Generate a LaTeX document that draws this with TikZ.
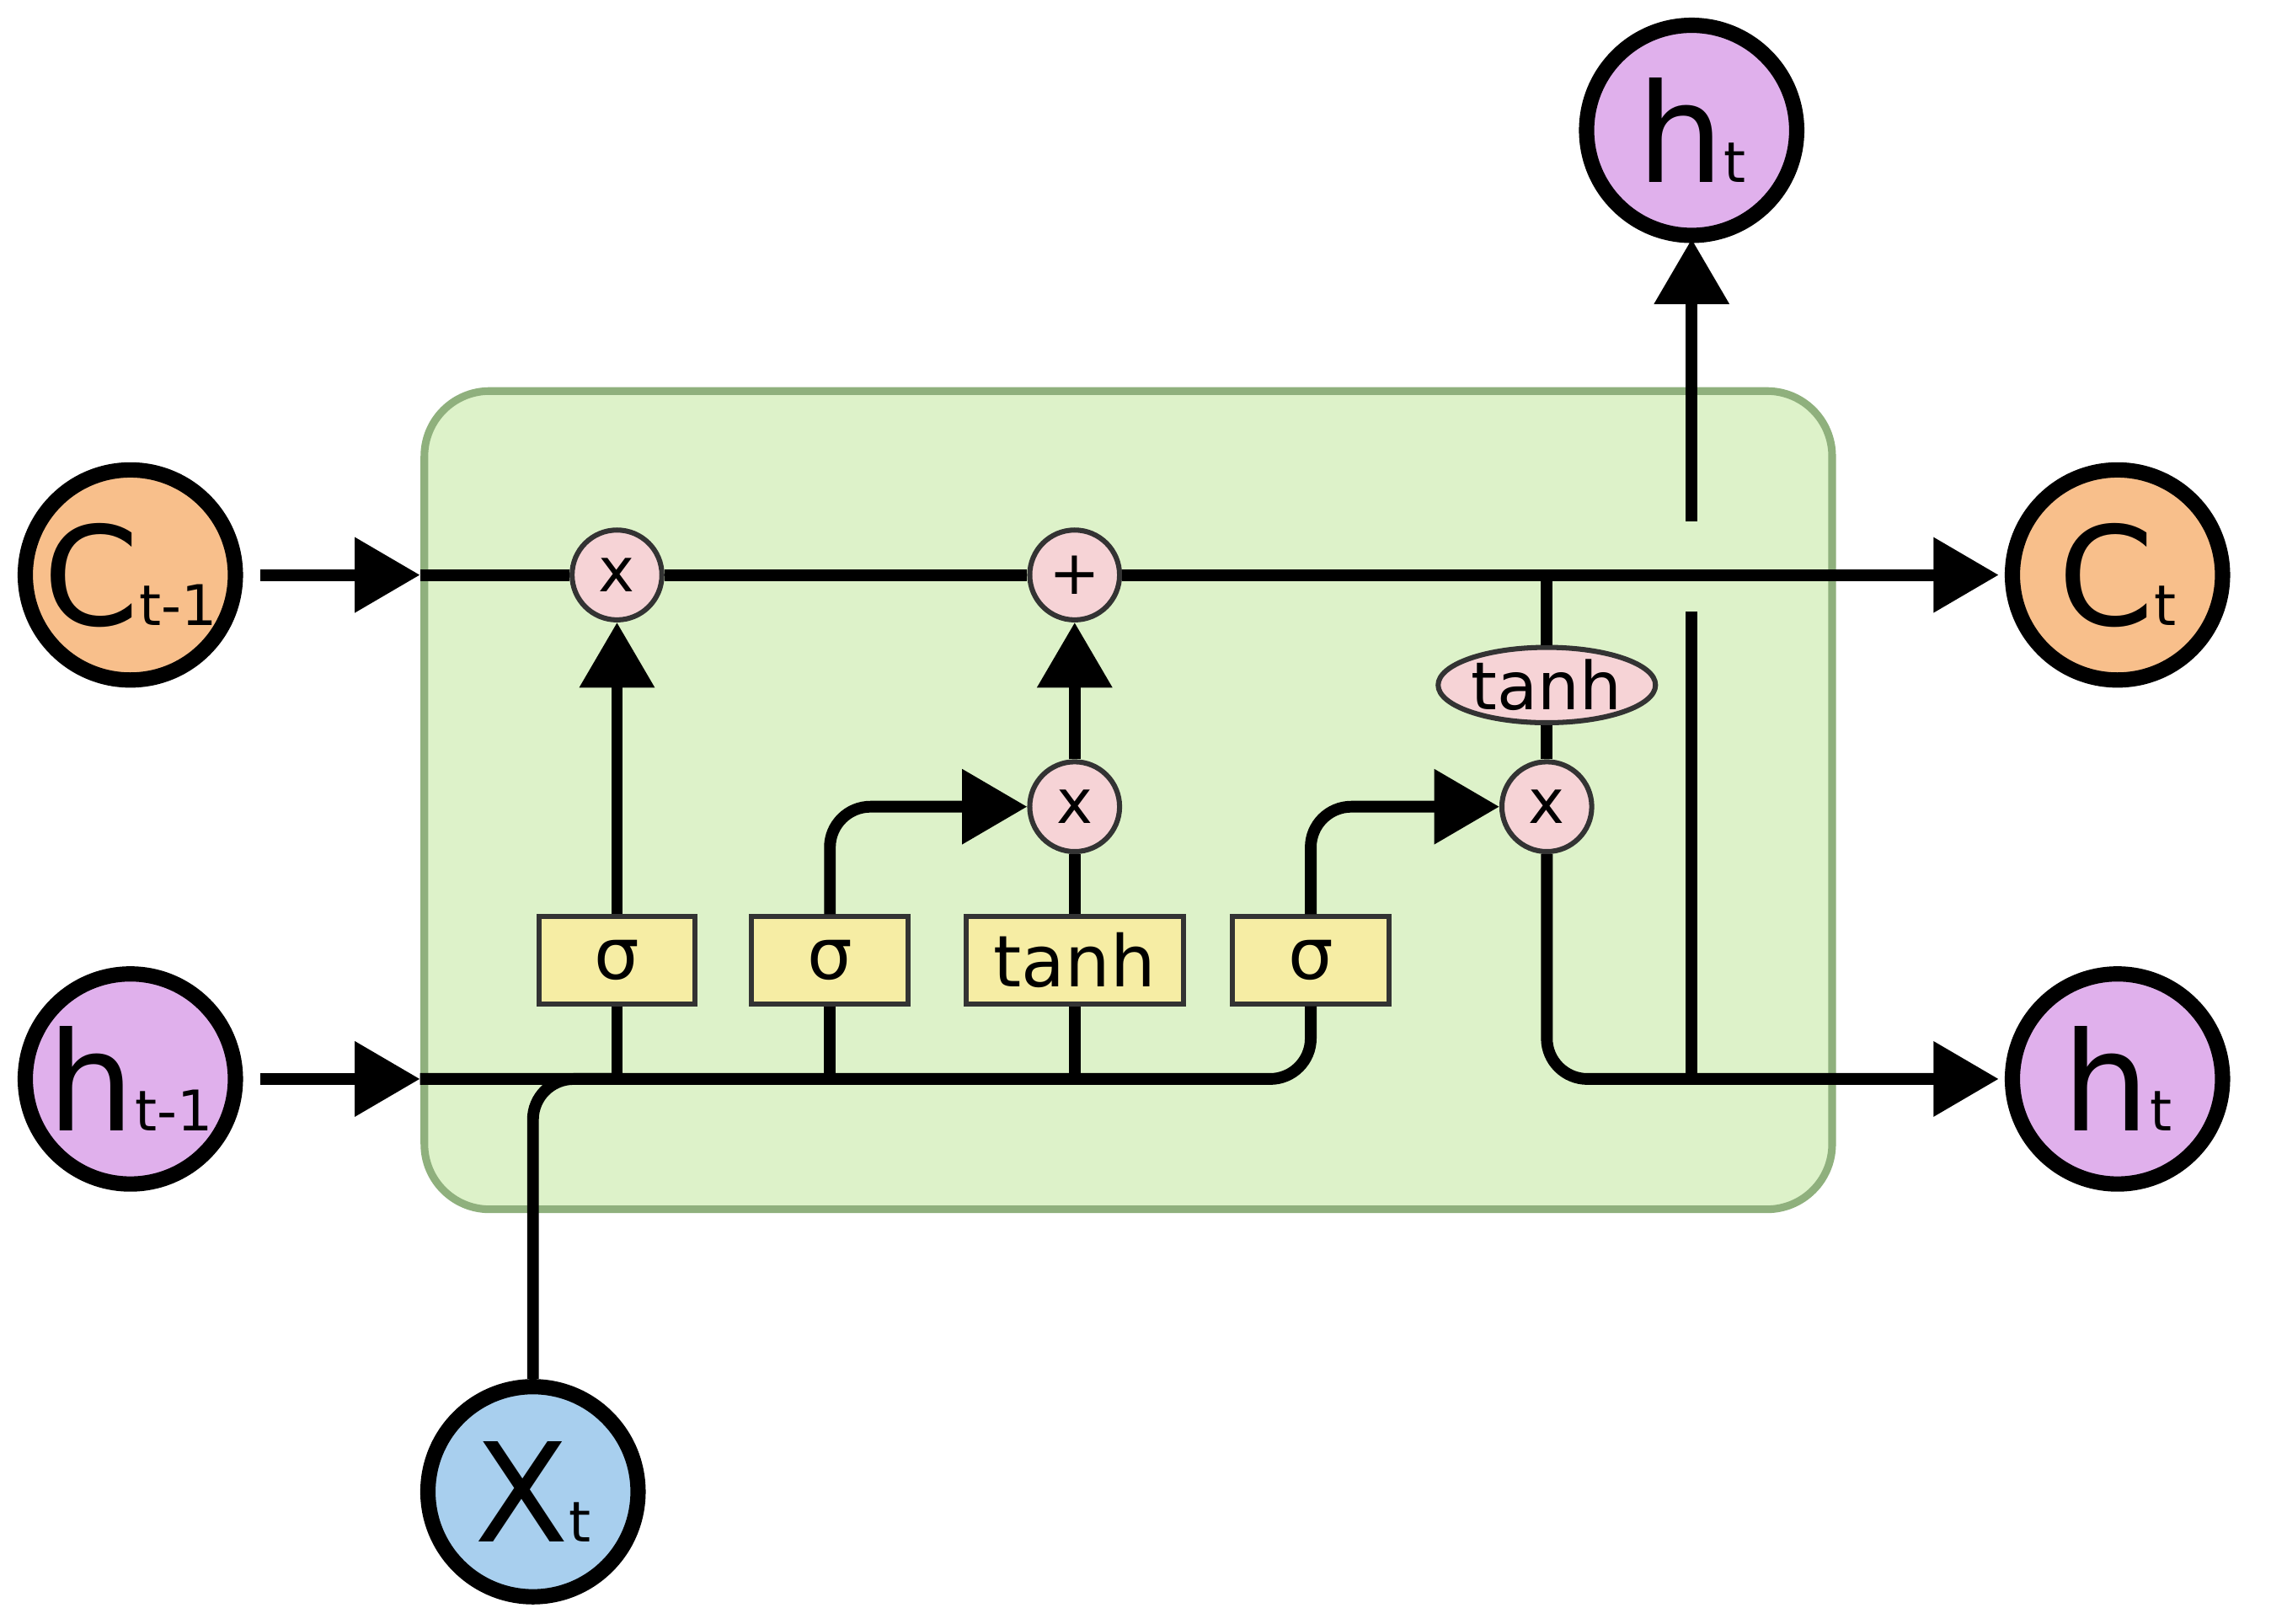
\documentclass[tikz,border=0pt]{standalone}
\usepackage{fontspec}
\setmainfont{DejaVu Sans}
\usetikzlibrary{arrows.meta,shapes.geometric}
\definecolor{corange}{HTML}{F8BF8B}
\definecolor{cpurple}{HTML}{E0B0EC}
\definecolor{cblue}{HTML}{A8CFEE}
\definecolor{cpink}{HTML}{F6D3D6}
\definecolor{cyellow}{HTML}{F6EDA4}
\definecolor{cboxfill}{HTML}{DDF2C9}
\definecolor{cboxdraw}{HTML}{8FB07D}
\newcommand{\lbl}[2]{{\fontsize{27}{27}\selectfont #1}{\fontsize{11}{11}\selectfont #2}}
\tikzset{
  io/.style={circle,draw=black,line width=3pt,minimum size=1.45cm,inner sep=0pt},
  op/.style={circle,draw=black!80,line width=1pt,fill=cpink,minimum size=0.62cm,inner sep=0pt,font=\fontsize{12}{12}\selectfont},
  gate/.style={rectangle,draw=black!80,line width=1pt,fill=cyellow,minimum height=0.6cm,inner sep=1pt,font=\fontsize{14}{14}\selectfont},
  wire/.style={line width=2.3pt,rounded corners=0.28cm},
  arr/.style={wire,-{Triangle[length=0.45cm,width=0.5cm]}}
}
\begin{document}
\begin{tikzpicture}[x=0.01cm,y=-0.01cm]
\useasboundingbox (0,0) rectangle (1568,1121);
\fill[white] (0,0) rectangle (1568,1121);
\draw[fill=cboxfill,draw=cboxdraw,line width=1.5pt,rounded corners=0.45cm] (293,270) rectangle (1265,835);

\node[io,fill=corange] (cin) at (90,397) {\lbl{C}{t-1}};
\node[io,fill=cpurple] (hin) at (90,745) {\lbl{h}{t-1}};
\node[io,fill=cblue] (xt) at (368,1030) {\lbl{X}{t}};
\node[io,fill=cpurple] (htop) at (1168,90) {\lbl{h}{t}};
\node[io,fill=corange] (cout) at (1462,397) {\lbl{C}{t}};
\node[io,fill=cpurple] (hout) at (1462,745) {\lbl{h}{t}};

\node[op] (m1) at (426,397) {x};
\node[op] (p1) at (742,397) {+};
\node[op] (m2) at (742,557) {x};
\node[op] (m3) at (1068,557) {x};
\node[ellipse,draw=black!80,line width=1pt,fill=cpink,minimum width=1.5cm,minimum height=0.52cm,inner sep=0pt,font=\fontsize{13}{13}\selectfont] (te) at (1068,473) {tanh};

\node[gate,minimum width=1.08cm] (s1) at (426,663) {σ};
\node[gate,minimum width=1.08cm] (s2) at (573,663) {σ};
\node[gate,minimum width=1.5cm] (tb) at (742,663) {tanh};
\node[gate,minimum width=1.08cm] (s4) at (905,663) {σ};

\coordinate (cinr) at (180,397);
\coordinate (hinr) at (180,745);
\coordinate (cl) at (290,397);
\coordinate (cr) at (1380,397);
\coordinate (hl) at (290,745);
\coordinate (hr) at (1380,745);
\coordinate (cbr) at (1068,397);
\coordinate (hj) at (1168,745);
\coordinate (hgap1) at (1168,422);
\coordinate (hgap2) at (1168,360);
\coordinate (htb) at (1168,165);

\draw[arr] (cinr) -- (cl);
\draw[wire] (cl) -- (m1);
\draw[wire] (m1) -- (p1);
\draw[arr] (p1) -- (cr);
\draw[arr] (hinr) -- (hl);
\draw[wire] (hl) -- (905,745) -- (s4.south);
\draw[wire] (xt) -- (368,745) -- (430,745);
\draw[wire] (426,745) -- (s1);
\draw[wire] (573,745) -- (s2);
\draw[wire] (742,745) -- (tb);
\draw[arr] (s1) -- (m1);
\draw[arr] (s2.north) -- (573,557) -- (m2.west);
\draw[wire] (tb) -- (m2);
\draw[arr] (m2) -- (p1);
\draw[arr] (s4.north) -- (905,557) -- (m3.west);
\draw[wire] (cbr) -- (te);
\draw[wire] (te) -- (m3);
\draw[arr] (m3) -- (1068,745) -- (hr);
\draw[wire] (hj) -- (hgap1);
\draw[arr] (hgap2) -- (htb);
\end{tikzpicture}
\end{document}
